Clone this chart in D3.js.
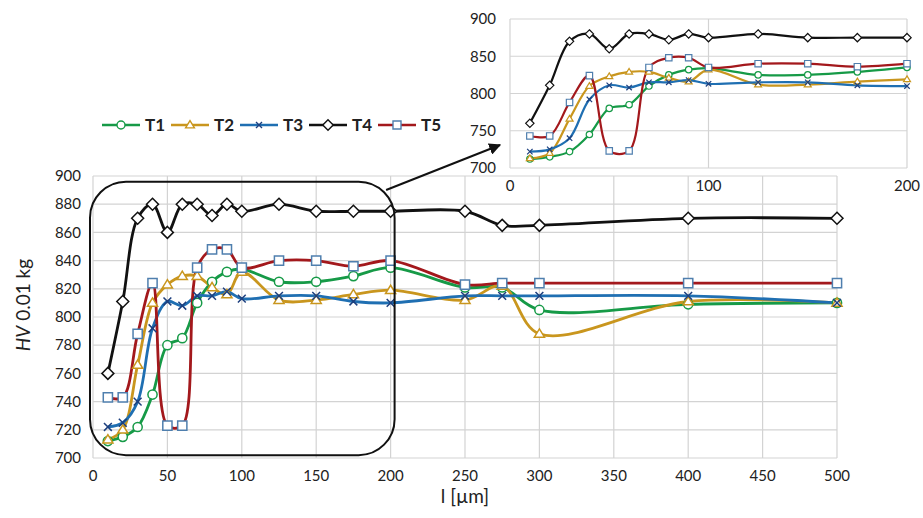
<!DOCTYPE html>
<html><head><meta charset="utf-8">
<script src="https://cdn.jsdelivr.net/npm/d3@7"></script>
<style>
body{margin:0;background:#fff}
text{font-family:Lato,"Liberation Sans",sans-serif;fill:#222}
</style>
</head><body>
<svg id="c" width="923" height="518"></svg>
<script>
// ---- data ----
const depths = [10,20,30,40,50,60,70,80,90,100,125,150,175,200,250,275,300,400,500];
const T1 = [712,715,722,745,780,785,810,825,832,834,825,825,829,835,821,821,805,809,810];
const T2 = [713,720,766,810,823,829,829,821,816,832,812,812,816,819,812,822,788,811,810];
const T3 = [722,725,740,792,811,808,815,815,818,813,815,815,811,810,815,815,815,815,810];
const T4 = [760,811,870,880,860,880,880,872,880,875,880,875,875,875,875,865,865,870,870];
const T5 = [743,743,788,824,723,723,835,848,848,835,840,840,836,840,823,824,824,824,824];
const seriesNames = ["T1","T2","T3","T4","T5"];
const xTicks = [0,50,100,150,200,250,300,350,400,450,500];
const yTicks = [700,720,740,760,780,800,820,840,860,880,900];
const insetXTicks = [0,100,200];
const insetYTicks = [700,750,800,850,900];

// ---- styles ----
const styles = {
  T1:{line:"#169a47", mk:"circle", stroke:"#169a47"},
  T2:{line:"#c9961e", mk:"triangle", stroke:"#c9961e"},
  T3:{line:"#1f6fb2", mk:"x", stroke:"#1d3f7e"},
  T4:{line:"#111111", mk:"diamond", stroke:"#111111"},
  T5:{line:"#a3181c", mk:"square", stroke:"#4f7fae"}
};
const values = {T1,T2,T3,T4,T5};

const svg = d3.select("#c");
svg.append("rect").attr("width",923).attr("height",518).attr("fill","#fff");

function markerPath(type, s){
  switch(type){
    case "circle": return d3.symbol(d3.symbolCircle, Math.PI*s*s)();
    case "square": return `M${-s},${-s}H${s}V${s}H${-s}Z`;
    case "diamond": {const d=s*1.3; return `M0,${-d}L${d},0L0,${d}L${-d},0Z`;}
    case "triangle": {const h=s*1.8, w=s*1.1; return `M0,${-h*0.6}L${w},${h*0.4}L${-w},${h*0.4}Z`;}
    case "x": return `M${-s},${-s}L${s},${s}M${-s},${s}L${s},${-s}`;
  }
}

function drawPlot(g, x, y, xt, yt, maxX, o){
  g.append("g").selectAll("line").data(yt).join("line")
    .attr("x1",x.range()[0]).attr("x2",x.range()[1])
    .attr("y1",d=>y(d)).attr("y2",d=>y(d))
    .attr("stroke","#d3d3d3").attr("stroke-width",1.2);
  g.append("g").selectAll("line").data(xt).join("line")
    .attr("x1",d=>x(d)).attr("x2",d=>x(d))
    .attr("y1",y.range()[0]).attr("y2",y.range()[1])
    .attr("stroke","#d3d3d3").attr("stroke-width",1.2);
  g.append("g").selectAll("text").data(xt).join("text")
    .attr("x",d=>x(d)).attr("y",y.range()[0]+o.xlab)
    .attr("text-anchor","middle").attr("font-size",o.fs).text(d=>d);
  g.append("g").selectAll("text").data(yt).join("text")
    .attr("x",x.range()[0]-o.ylab).attr("y",d=>y(d)).attr("dy","0.35em")
    .attr("text-anchor","end").attr("font-size",o.fs).text(d=>d);
  const line = d3.line().curve(d3.curveCatmullRom.alpha(0.5))
    .x(d=>x(d[0])).y(d=>y(d[1]));
  seriesNames.forEach(n=>{
    const pts = depths.map((d,i)=>[d,values[n][i]]).filter(p=>p[0]<=maxX);
    g.append("path").attr("d",line(pts)).attr("fill","none")
      .attr("stroke",styles[n].line).attr("stroke-width",o.lw);
  });
  seriesNames.forEach(n=>{
    const pts = depths.map((d,i)=>[d,values[n][i]]).filter(p=>p[0]<=maxX);
    const st = styles[n];
    g.append("g").selectAll("path").data(pts).join("path")
      .attr("transform",p=>`translate(${x(p[0])},${y(p[1])})`)
      .attr("d",markerPath(st.mk,o.ms*(st.mk==="x"?0.85:1)))
      .attr("fill",st.mk==="x"?"none":"#fff")
      .attr("stroke",st.stroke).attr("stroke-width",o.mw);
  });
}

// main chart
const x = d3.scaleLinear().domain([0,500]).range([93,837]);
const y = d3.scaleLinear().domain([700,900]).range([458,176]);
const main = svg.append("g");
drawPlot(main, x, y, xTicks, yTicks, 500, {fs:15, xlab:23, ylab:12, lw:2.8, ms:4.6, mw:1.5});

// axis titles
svg.append("text").attr("x",(x.range()[0]+x.range()[1])/2).attr("y",503)
  .attr("text-anchor","middle").attr("font-size",19).text("l [µm]");
const yt = svg.append("text").attr("transform",`translate(30,${(y(700)+y(900))/2 - 12}) rotate(-90)`)
  .attr("text-anchor","middle").attr("font-size",19);
yt.append("tspan").attr("font-style","italic").text("HV");
yt.append("tspan").text(" 0.01 kg");

// highlight rounded rect (range 0-200)
svg.append("rect")
  .attr("x",x(0)-3).attr("y",y(896)).attr("width",x(200)-x(0)+7).attr("height",y(702)-y(896))
  .attr("rx",36).attr("ry",36).attr("fill","none").attr("stroke","#111").attr("stroke-width",2);

// inset
const xi = d3.scaleLinear().domain([0,200]).range([510,907]);
const yi = d3.scaleLinear().domain([700,900]).range([168,19]);
const inset = svg.append("g");
drawPlot(inset, xi, yi, insetXTicks, insetYTicks, 200, {fs:15, xlab:23, ylab:14, lw:2.2, ms:3.2, mw:1.2});

// arrow
svg.append("defs").append("marker").attr("id","ah").attr("viewBox","0 0 10 10")
  .attr("refX",9).attr("refY",5).attr("markerWidth",6).attr("markerHeight",6)
  .attr("orient","auto").append("path").attr("d","M0,0L10,5L0,10Z").attr("fill","#111");
svg.append("line").attr("x1",x(197)).attr("y1",190).attr("x2",xi(0)-10).attr("y2",145)
  .attr("stroke","#111").attr("stroke-width",2).attr("marker-end","url(#ah)");

// legend
const legend = svg.append("g").attr("transform","translate(102,125)");
seriesNames.forEach((n,i)=>{
  const gx = i*69;
  const st = styles[n];
  const lg = legend.append("g").attr("transform",`translate(${gx},0)`);
  lg.append("line").attr("x1",0).attr("x2",38).attr("y1",0).attr("y2",0)
    .attr("stroke",st.line).attr("stroke-width",2.6);
  lg.append("path").attr("transform","translate(19,0)")
    .attr("d",markerPath(st.mk,st.mk==="x"?3:4)).attr("fill",st.mk==="x"?"none":"#fff")
    .attr("stroke",st.stroke).attr("stroke-width",1.4);
  lg.append("text").attr("x",43).attr("y",0).attr("dy","0.36em")
    .attr("font-size",17).attr("font-weight","bold").text(n);
});
</script>
</body></html>
